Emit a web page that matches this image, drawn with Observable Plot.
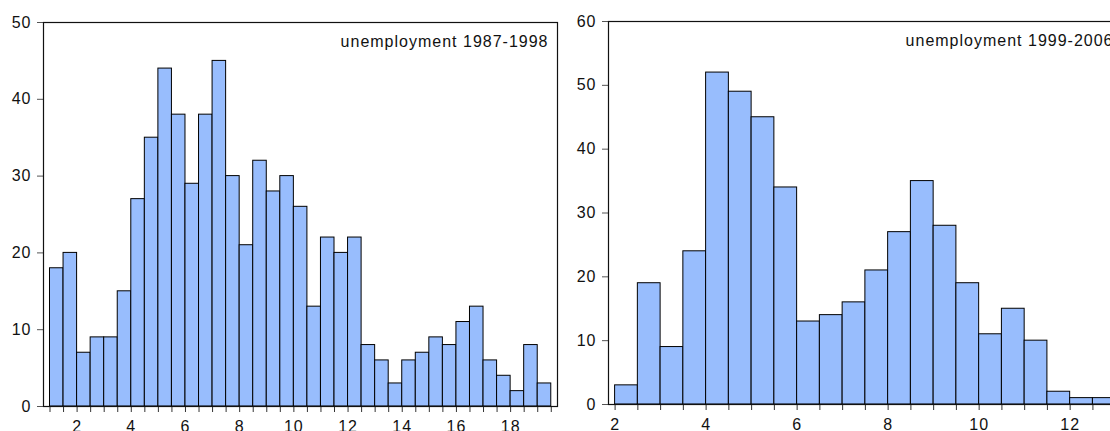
<!DOCTYPE html>
<html>
<head>
<meta charset="utf-8">
<script src="https://cdn.jsdelivr.net/npm/d3@7"></script>
<script src="https://cdn.jsdelivr.net/npm/@observablehq/plot@0.6"></script>
<style>
  body { margin: 0; width: 1110px; height: 431px; overflow: hidden; background: white; }
  #wrap { position: relative; width: 1110px; height: 431px; }
  #left, #right { position: absolute; top: 0; width: 580px; }
  #left { left: 0; }
  #right { left: 565px; }
</style>
</head>
<body>
<div id="wrap">
  <div id="left"></div>
  <div id="right"></div>
</div>
<script>
// histogram counts, bins of width 0.5
const binWidth = 0.5

const leftTitle = 'unemployment 1987-1998'
const leftStart = 1
const leftCounts = [18, 20, 7, 9, 9, 15, 27, 35, 44, 38, 29, 38, 45, 30, 21, 32, 28, 30, 26,
  13, 22, 20, 22, 8, 6, 3, 6, 7, 9, 8, 11, 13, 6, 4, 2, 8, 3]
const leftXLabels = [2, 4, 6, 8, 10, 12, 14, 16, 18]
const leftYTicks = [0, 10, 20, 30, 40, 50]

const rightTitle = 'unemployment 1999-2006'
const rightStart = 2
const rightCounts = [3, 19, 9, 24, 52, 49, 45, 34, 13, 14, 16, 21, 27, 35, 28, 19, 11, 15, 10, 2, 1, 1]
const rightXLabels = [2, 4, 6, 8, 10, 12]
const rightYTicks = [0, 10, 20, 30, 40, 50, 60]

function bins(start, counts) {
  return counts.map((c, i) => ({x1: start + i * binWidth, x2: start + (i + 1) * binWidth, y: c}))
}

function histo({title, start, counts, xLabels, yTicks, xDomain, marginTop, marginBottom}) {
  const data = bins(start, counts)
  const edges = [start, ...data.map(d => d.x2)]
  return Plot.plot({
    width: 580,
    height: 440,
    marginLeft: 43,
    marginRight: 23,
    marginTop,
    marginBottom,
    x: {domain: xDomain, label: null},
    y: {domain: [0, yTicks[yTicks.length - 1]], label: null},
    style: "font-family: 'Liberation Sans', Arial, sans-serif; font-size: 16px; letter-spacing: 1px; color: #111; background: white; overflow: visible; max-width: none;",
    marks: [
      Plot.rectY(data, {x1: 'x1', x2: 'x2', y: 'y', fill: '#98bdfd', stroke: '#000', strokeWidth: 1}),
      Plot.axisX({ticks: edges, tickSize: 6, tickPadding: 8, stroke: '#333', label: null,
        tickFormat: d => xLabels.includes(d) ? d : ''}),
      Plot.axisY({ticks: yTicks, tickSize: 6, tickPadding: 6, stroke: '#555', label: null}),
      Plot.frame({stroke: '#111', strokeWidth: 1.2}),
      Plot.text([title], {frameAnchor: 'top-right', textAnchor: 'end', lineAnchor: 'top',
        dx: -9, dy: 13, fill: '#111'})
    ]
  })
}

d3.select('#left').append(() => histo({
  title: leftTitle, start: leftStart, counts: leftCounts,
  xLabels: leftXLabels, yTicks: leftYTicks,
  xDomain: [0.76, 19.73], marginTop: 22, marginBottom: 34
}))

d3.select('#right').append(() => histo({
  title: rightTitle, start: rightStart, counts: rightCounts,
  xLabels: rightXLabels, yTicks: rightYTicks,
  xDomain: [1.855, 13.15], marginTop: 21, marginBottom: 36
}))
</script>
</body>
</html>
